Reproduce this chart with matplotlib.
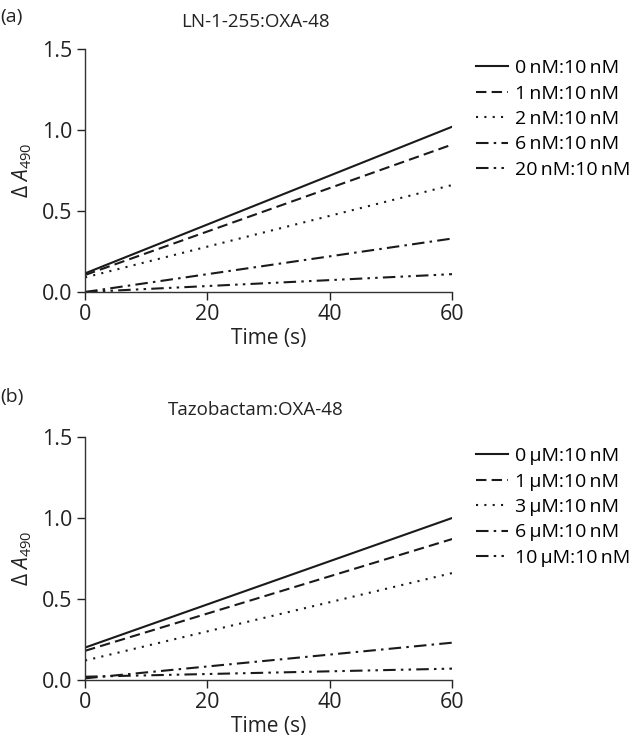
import matplotlib
matplotlib.use("Agg")
import matplotlib.pyplot as plt

plt.rcParams['font.family'] = ['Open Sans', 'DejaVu Sans']
plt.rcParams['mathtext.fontset'] = 'custom'
plt.rcParams['mathtext.rm'] = 'Open Sans'
plt.rcParams['mathtext.it'] = 'Open Sans:italic'

# ---------------------------- datos ----------------------------
time_s = [0, 60]
# (a) LN-1-255:OXA-48
labels_a = ['0\u2009nM:10\u2009nM', '1\u2009nM:10\u2009nM', '2\u2009nM:10\u2009nM',
            '6\u2009nM:10\u2009nM', '20\u2009nM:10\u2009nM']
A490_a = [[0.115, 1.02],
          [0.105, 0.91],
          [0.09, 0.66],
          [0.0, 0.33],
          [0.0, 0.11]]
# (b) Tazobactam:OXA-48
labels_b = ['0\u2009\u03bcM:10\u2009nM', '1\u2009\u03bcM:10\u2009nM', '3\u2009\u03bcM:10\u2009nM',
            '6\u2009\u03bcM:10\u2009nM', '10\u2009\u03bcM:10\u2009nM']
A490_b = [[0.20, 1.0],
          [0.18, 0.87],
          [0.12, 0.66],
          [0.01, 0.23],
          [0.02, 0.07]]

estilos = ['-', (0, (5, 2.5)), (0, (1, 3)), (0, (6, 2.5, 1.2, 2.5)), (0, (6, 2.5, 1.2, 2.5, 1.2, 2.5))]

fig = plt.figure(figsize=(6.35, 7.51), dpi=100)
ax1 = fig.add_axes([0.134, 0.6112, 0.578, 0.3236])
ax2 = fig.add_axes([0.134, 0.0946, 0.578, 0.3235])

def panel(ax, datos, labels, titulo, letra, ytxt):
    for y, lab, ls in zip(datos, labels, estilos):
        ax.plot(time_s, y, color='#1a1a1a', linestyle=ls, linewidth=1.5, label=lab)
    ax.set_xlim(0, 60)
    ax.set_ylim(0, 1.5)
    ax.set_xticks([0, 20, 40, 60])
    ax.set_yticks([0.0, 0.5, 1.0, 1.5])
    ax.set_yticklabels(['0.0', '0.5', '1.0', '1.5'])
    for s in ['top', 'right']:
        ax.spines[s].set_visible(False)
    for s in ['left', 'bottom']:
        ax.spines[s].set_color('#333333')
        ax.spines[s].set_linewidth(1.0)
    ax.tick_params(direction='out', length=6, width=1.0, labelsize=15.5, colors='#222222', pad=3)
    ax.set_xlabel('Time (s)', fontsize=15, color='#222222', labelpad=2)
    ax.set_ylabel('\u0394 $\\mathit{A}_{490}$', fontsize=15, color='#222222', labelpad=6)
    ax.set_title(titulo, fontsize=13.5, color='#222222', pad=16, x=0.465)
    fig.text(0.0, ytxt, letra, fontsize=14, color='#222222', va='center')
    ax.legend(loc='upper left', bbox_to_anchor=(1.045, 0.99), frameon=False, fontsize=14,
              handlelength=1.6, handletextpad=0.4, labelspacing=0.38, borderaxespad=0)

panel(ax1, A490_a, labels_a, 'LN-1-255:OXA-48', '(a)', 0.978)
panel(ax2, A490_b, labels_b, 'Tazobactam:OXA-48', '(b)', 0.472)

plt.savefig('out.png', dpi=100)
